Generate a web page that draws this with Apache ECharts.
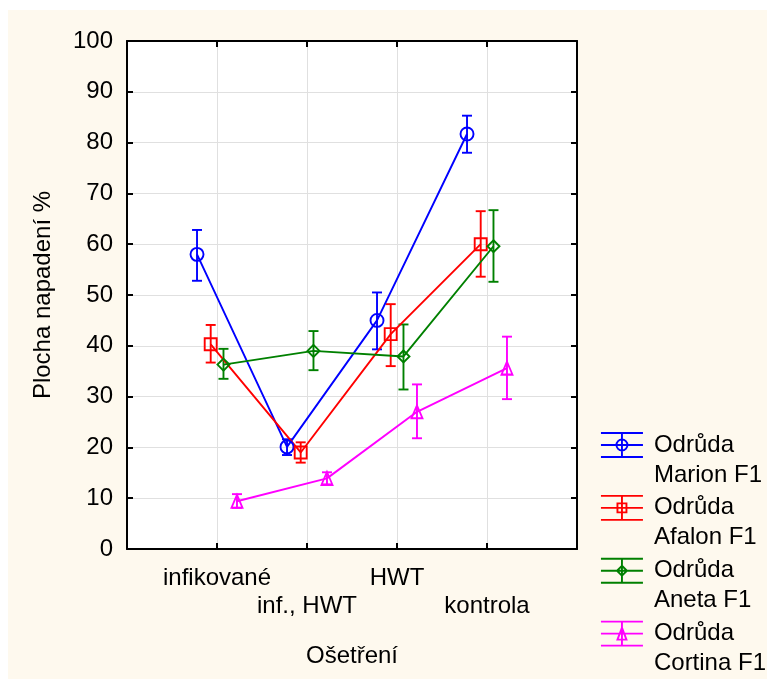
<!DOCTYPE html>
<html>
<head>
<meta charset="utf-8">
<script src="https://cdn.jsdelivr.net/npm/echarts@6/dist/echarts.min.js"></script>
<style>
  html, body { margin: 0; padding: 0; background: #fff; }
  #chart { width: 767px; height: 682px; }
</style>
</head>
<body>
<div id="chart"></div>
<script>
// Treatments on the horizontal axis
const categories = ['infikované', 'inf., HWT', 'HWT', 'kontrola'];

// Variety names (legend)
const varieties = ['Odrůda\nMarion F1', 'Odrůda\nAfalon F1', 'Odrůda\nAneta F1', 'Odrůda\nCortina F1'];

// Mean affected area (%) per treatment, with lower / upper error limits
const marionMean = [58.0, 20.1, 45.0, 81.7];
const marionLow  = [52.8, 18.5, 39.3, 78.0];
const marionHigh = [62.8, 21.6, 50.5, 85.3];

const afalonMean = [40.3, 19.0, 42.3, 60.0];
const afalonLow  = [36.7, 17.0, 36.0, 53.6];
const afalonHigh = [44.1, 21.0, 48.2, 66.5];

const anetaMean = [36.3, 39.0, 37.9, 59.6];
const anetaLow  = [33.5, 35.2, 31.4, 52.6];
const anetaHigh = [39.4, 42.9, 44.2, 66.7];

const cortinaMean = [9.4, 13.9, 27.0, 35.6];
const cortinaLow  = [8.1, 12.7, 21.8, 29.5];
const cortinaHigh = [10.8, 15.1, 32.4, 41.8];

// Y axis ticks
const yTicks = [0, 10, 20, 30, 40, 50, 60, 70, 80, 90, 100];

const FONT = 'Liberation Sans';
const FS = 24;
const LW = 1.9;

const groups = [
  { name: varieties[0], mean: marionMean, low: marionLow, high: marionHigh, color: '#0000ff', symbol: 'circle', size: 13, shift: -0.222,
    icon: 'M26.5,15 A5.5,5.5 0 1,1 15.5,15 A5.5,5.5 0 1,1 26.5,15 Z' },
  { name: varieties[1], mean: afalonMean, low: afalonLow, high: afalonHigh, color: '#ff0000', symbol: 'rect', size: 12, shift: -0.07,
    icon: 'M16.5,10.5 L25.5,10.5 L25.5,19.5 L16.5,19.5 Z' },
  { name: varieties[2], mean: anetaMean, low: anetaLow, high: anetaHigh, color: '#008000', symbol: 'diamond', size: 12, shift: 0.072,
    icon: 'M21,10 L26,15 L21,20 L16,15 Z' },
  { name: varieties[3], mean: cortinaMean, low: cortinaLow, high: cortinaHigh, color: '#ff00ff', symbol: 'triangle', size: [11, 13], shift: 0.222,
    icon: 'M21,9 L25.5,21 L16.5,21 Z' }
];

// Legend glyph: error bar (three caps joined by a stem) plus the marker,
// padded so the glyph sits next to the first text line.
function legendIcon(marker) {
  return 'path://M0,0 M48,60 M0,3 L42,3 M0,15 L42,15 M0,27 L42,27 M21,3 L21,27 ' + marker;
}

const series = [];
groups.forEach(g => {
  series.push({
    name: g.name,
    type: 'line',
    color: g.color,
    data: g.mean.map((v, i) => [i + 1 + g.shift, v]),
    symbol: g.symbol,
    symbolSize: g.size,
    showAllSymbol: true,
    lineStyle: { color: g.color, width: LW },
    itemStyle: { color: 'rgba(0,0,0,0)', borderColor: g.color, borderWidth: LW },
    emphasis: { disabled: true },
    z: 3
  });
  series.push({
    name: g.name,
    type: 'custom',
    color: g.color,
    data: g.mean.map((v, i) => [i + 1 + g.shift, g.low[i], g.high[i]]),
    encode: { x: 0, y: [1, 2] },
    renderItem: function (params, api) {
      const x = api.value(0);
      const pLo = api.coord([x, api.value(1)]);
      const pHi = api.coord([x, api.value(2)]);
      const w = 5;
      const st = { stroke: g.color, lineWidth: LW };
      return {
        type: 'group',
        children: [
          { type: 'line', shape: { x1: pLo[0], y1: pLo[1], x2: pHi[0], y2: pHi[1] }, style: st },
          { type: 'line', shape: { x1: pLo[0] - w, y1: pLo[1], x2: pLo[0] + w, y2: pLo[1] }, style: st },
          { type: 'line', shape: { x1: pHi[0] - w, y1: pHi[1], x2: pHi[0] + w, y2: pHi[1] }, style: st }
        ]
      };
    },
    z: 2
  });
});

const frameLine = { show: true, onZero: false, lineStyle: { color: '#000', width: 2 } };
const innerTick = { show: true, inside: true, length: 6, lineStyle: { color: '#000', width: 2 } };
const gridLine = { show: true, lineStyle: { color: '#e0e0e0', width: 1 } };

const option = {
  animation: false,
  backgroundColor: '#ffffff',
  textStyle: { fontFamily: FONT },
  graphic: [{
    type: 'rect',
    z: -10,
    silent: true,
    shape: { x: 8, y: 10, width: 759, height: 669 },
    style: { fill: '#fef9ee' }
  }],
  grid: {
    left: 127, right: 190, top: 41, bottom: 133,
    show: true, backgroundColor: '#ffffff', borderWidth: 0
  },
  legend: {
    orient: 'vertical',
    left: 600,
    top: 429,
    height: 320,
    padding: 0,
    itemWidth: 48,
    itemHeight: 60,
    itemGap: 1,
    selectedMode: false,
    textStyle: { fontFamily: FONT, fontSize: FS, lineHeight: 30, color: '#000' },
    data: groups.map(g => ({
      name: g.name,
      icon: legendIcon(g.icon),
      itemStyle: { color: 'rgba(0,0,0,0)', borderColor: g.color, borderWidth: LW }
    }))
  },
  xAxis: [{
    type: 'value',
    min: 0, max: categories.length + 1, interval: 1,
    position: 'bottom',
    name: 'Ošetření',
    nameLocation: 'middle',
    nameGap: 95,
    nameTextStyle: { fontFamily: FONT, fontSize: FS, color: '#000' },
    axisLine: frameLine,
    axisTick: innerTick,
    splitLine: gridLine,
    axisLabel: {
      margin: 15,
      fontFamily: FONT, fontSize: FS, color: '#000', lineHeight: 28,
      formatter: function (v) {
        const i = Math.round(v) - 1;
        if (i < 0 || i >= categories.length) return '';
        // alternate rows so neighbouring labels do not collide
        return (i % 2 === 0 ? '' : '\n') + categories[i];
      }
    }
  }, {
    type: 'value',
    min: 0, max: categories.length + 1, interval: 1,
    position: 'top',
    axisLine: frameLine,
    axisTick: innerTick,
    axisLabel: { show: false },
    splitLine: { show: false }
  }],
  yAxis: [{
    type: 'value',
    min: yTicks[0], max: yTicks[yTicks.length - 1], interval: yTicks[1] - yTicks[0],
    position: 'left',
    name: 'Plocha napadení %',
    nameLocation: 'middle',
    nameGap: 72,
    nameTextStyle: { fontFamily: FONT, fontSize: FS, color: '#000' },
    axisLine: frameLine,
    axisTick: innerTick,
    splitLine: gridLine,
    axisLabel: { margin: 14, fontFamily: FONT, fontSize: FS, color: '#000' }
  }, {
    type: 'value',
    min: yTicks[0], max: yTicks[yTicks.length - 1], interval: yTicks[1] - yTicks[0],
    position: 'right',
    axisLine: frameLine,
    axisTick: innerTick,
    axisLabel: { show: false },
    splitLine: { show: false }
  }],
  series: series
};

const chart = echarts.init(document.getElementById('chart'), null, { renderer: 'canvas' });
chart.setOption(option);
</script>
</body>
</html>
